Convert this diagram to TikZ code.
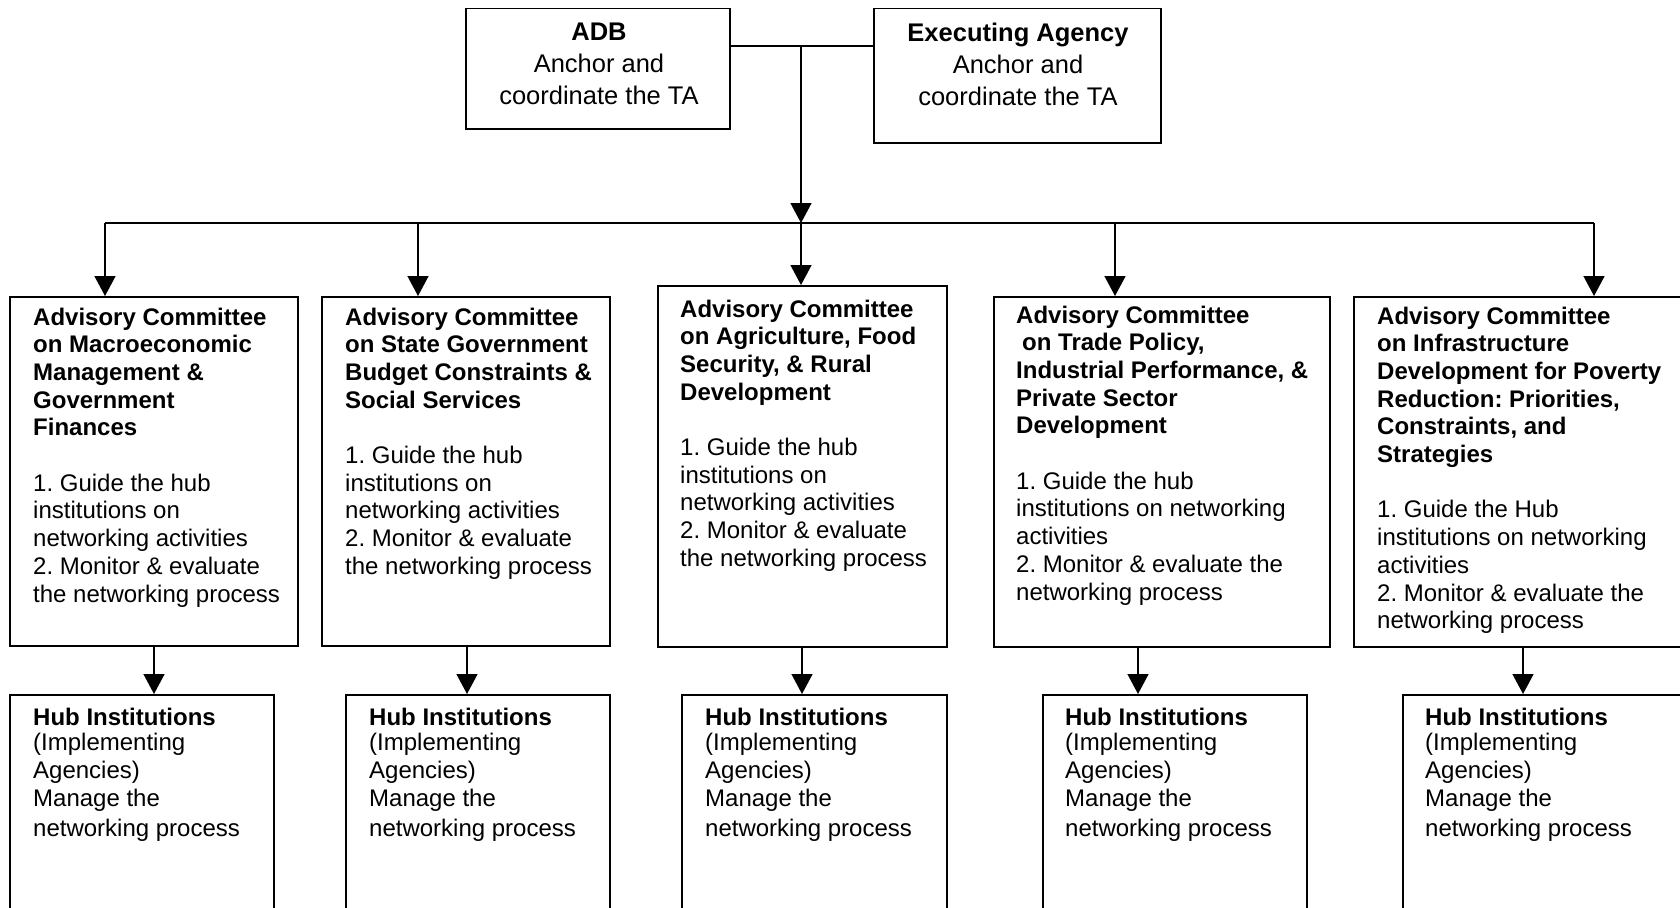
\documentclass[tikz,border=0pt]{standalone}
\usepackage{fontspec}
\setmainfont{Liberation Sans}
\usetikzlibrary{arrows.meta}
\frenchspacing
\begin{document}
\begin{tikzpicture}[x=1pt,y=-1pt,
  box/.style={draw, line width=1.5pt, inner sep=0pt, anchor=north west},
  txt/.style={anchor=north west, inner sep=0pt, align=left, font=\fontsize{24}{27.7}\selectfont},
  toptxt/.style={anchor=north, inner sep=0pt, align=center, font=\fontsize{25.5}{32}\selectfont},
  hubtxt/.style={anchor=north west, inner sep=0pt, align=left, font=\fontsize{24}{28}\selectfont},
  conn/.style={line width=1.5pt},
  arr/.style={conn, -{Triangle[length=20pt,width=21pt]}}]
\useasboundingbox (0,0) rectangle (1680,907);
\clip (0,0) rectangle (1680,907);

% top boxes
\node[box, minimum width=264pt, minimum height=120pt] (adb) at (465,8) {};
\node[box, minimum width=287pt, minimum height=134pt] (ea) at (873,8) {};
\node[toptxt] (adbt) at (599,22.4) {\textbf{ADB}\\Anchor and\\coordinate the TA};
\node[toptxt] (eat) at (1018,22.4) {\textbf{Executing Agency}\\Anchor and\\coordinate the TA};

% committee boxes
\node[box, minimum width=288pt, minimum height=349pt] (c1) at (9,296) {};
\node[box, minimum width=288pt, minimum height=349pt] (c2) at (321,296) {};
\node[box, minimum width=289pt, minimum height=361pt] (c3) at (657,285) {};
\node[box, minimum width=336pt, minimum height=350pt] (c4) at (993,296) {};
\node[box, minimum width=360pt, minimum height=350pt] (c5) at (1353,296) {};

\node[txt] (c1t) at (33,307.5) {\textbf{Advisory Committee}\\\textbf{on Macroeconomic}\\\textbf{Management \&}\\\textbf{Government}\\\textbf{Finances}\\[27.7pt]1. Guide the hub\\institutions on\\networking activities\\2. Monitor \& evaluate\\the networking process};
\node[txt] (c2t) at (345,307.5) {\textbf{Advisory Committee}\\\textbf{on State Government}\\\textbf{Budget Constraints \&}\\\textbf{Social Services}\\[27.7pt]1. Guide the hub\\institutions on\\networking activities\\2. Monitor \& evaluate\\the networking process};
\node[txt] (c3t) at (680,299.5) {\textbf{Advisory Committee}\\\textbf{on Agriculture, Food}\\\textbf{Security, \& Rural}\\\textbf{Development}\\[27.7pt]1. Guide the hub\\institutions on\\networking activities\\2. Monitor \& evaluate\\the networking process};
\node[txt] (c4t) at (1016,305.5) {\textbf{Advisory Committee}\\\hspace*{6pt}\textbf{on Trade Policy,}\\\textbf{Industrial Performance, \&}\\\textbf{Private Sector}\\\textbf{Development}\\[27.7pt]1. Guide the hub\\institutions on networking\\activities\\2. Monitor \& evaluate the\\networking process};
\node[txt] (c5t) at (1377,306.5) {\textbf{Advisory Committee}\\\textbf{on Infrastructure}\\\textbf{Development for Poverty}\\\textbf{Reduction: Priorities,}\\\textbf{Constraints, and}\\\textbf{Strategies}\\[27.7pt]1. Guide the Hub\\institutions on networking\\activities\\2. Monitor \& evaluate the\\networking process};

% hub boxes
\node[box, minimum width=264pt, minimum height=240pt] (h1) at (9,694) {};
\node[box, minimum width=264pt, minimum height=240pt] (h2) at (345,694) {};
\node[box, minimum width=265pt, minimum height=240pt] (h3) at (681,694) {};
\node[box, minimum width=264pt, minimum height=240pt] (h4) at (1042,694) {};
\node[box, minimum width=300pt, minimum height=240pt] (h5) at (1402,694) {};

\node[hubtxt] (h1t) at (33,707.5) {\textbf{Hub Institutions}\\[-3pt](Implementing\\Agencies)\\Manage the\\[2pt]networking process};
\node[hubtxt] (h2t) at (369,707.5) {\textbf{Hub Institutions}\\[-3pt](Implementing\\Agencies)\\Manage the\\[2pt]networking process};
\node[hubtxt] (h3t) at (705,707.5) {\textbf{Hub Institutions}\\[-3pt](Implementing\\Agencies)\\Manage the\\[2pt]networking process};
\node[hubtxt] (h4t) at (1065,707.5) {\textbf{Hub Institutions}\\[-3pt](Implementing\\Agencies)\\Manage the\\[2pt]networking process};
\node[hubtxt] (h5t) at (1425,707.5) {\textbf{Hub Institutions}\\[-3pt](Implementing\\Agencies)\\Manage the\\[2pt]networking process};

% connectors
\coordinate (j) at (801,46);
\coordinate (d) at (801,223);
\coordinate (d1) at (105,223);
\coordinate (d2) at (418,223);
\coordinate (d4) at (1115,223);
\coordinate (d5) at (1594,223);
\draw[conn] (adb.east |- j) -- (ea.west |- j);
\draw[arr] (j) -- (d);
\draw[conn] (d1) -- (d5);
\draw[arr] (d1) -- (d1 |- c1.north);
\draw[arr] (d2) -- (d2 |- c2.north);
\draw[arr] (d) -- (d |- c3.north);
\draw[arr] (d4) -- (d4 |- c4.north);
\draw[arr] (d5) -- (d5 |- c5.north);

\coordinate (a1) at (154,645);
\coordinate (a2) at (467,645);
\coordinate (a3) at (802,646);
\coordinate (a4) at (1138,646);
\coordinate (a5) at (1523,646);
\draw[arr] (a1) -- (a1 |- h1.north);
\draw[arr] (a2) -- (a2 |- h2.north);
\draw[arr] (a3) -- (a3 |- h3.north);
\draw[arr] (a4) -- (a4 |- h4.north);
\draw[arr] (a5) -- (a5 |- h5.north);
\end{tikzpicture}
\end{document}
